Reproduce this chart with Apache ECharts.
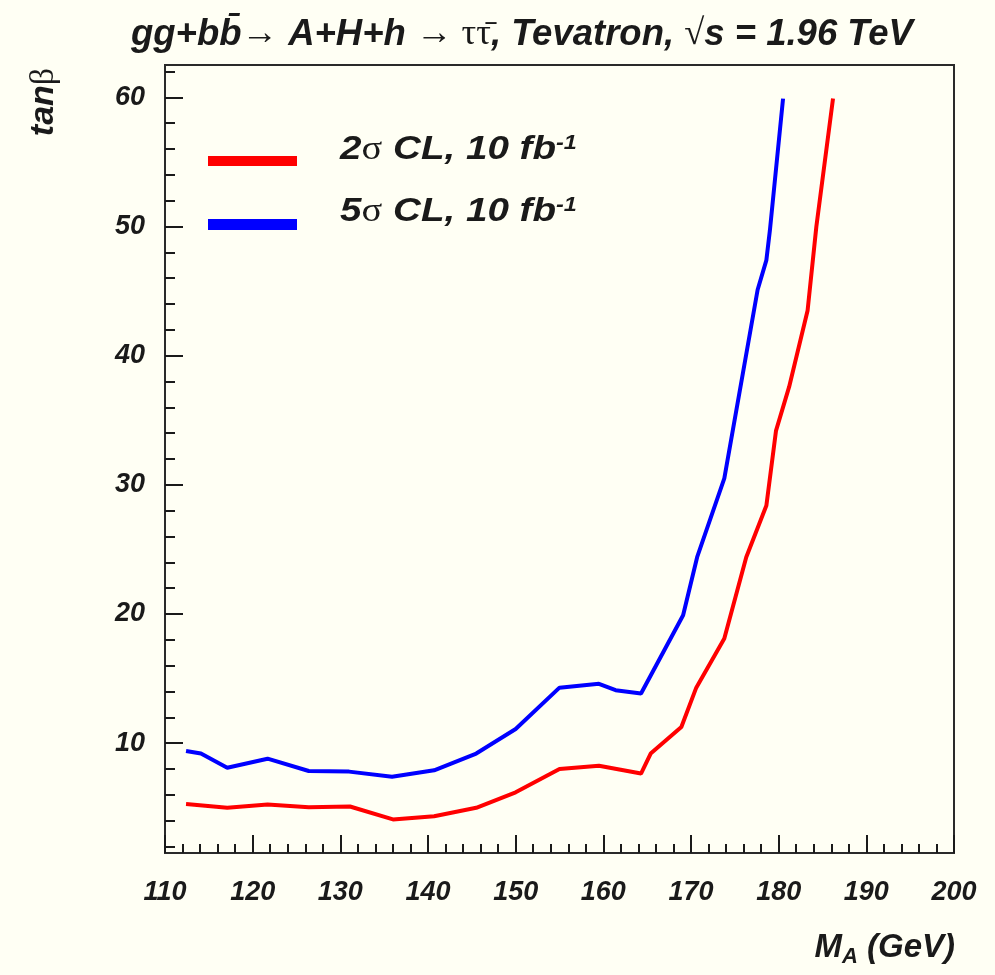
<!DOCTYPE html>
<html>
<head>
<meta charset="utf-8">
<script src="https://cdn.jsdelivr.net/npm/echarts@6/dist/echarts.min.js"></script>
<style>
  html, body { margin: 0; padding: 0; background: #fffff4; }
  #chart { width: 995px; height: 975px; }
</style>
</head>
<body>
<div id="chart"></div>
<script>
// Discovery reach in the (M_A, tan beta) plane, gg+bb -> A+H+h -> tau tau at the Tevatron
const seriesNames = ['2σ CL, 10 fb-1', '5σ CL, 10 fb-1'];
const seriesColors = ['#ff0000', '#0000ff'];

// 2 sigma contour
const redMass = [112.4, 117.1, 121.7, 126.4, 131.1, 136.0, 140.7, 145.5, 150.0, 155.0,
                 159.5, 164.3, 165.4, 168.9, 170.6, 173.8, 176.3, 178.6, 179.7, 181.2,
                 183.3, 184.3, 186.2];
const redTanBeta = [5.3, 5.0, 5.25, 5.05, 5.1, 4.1, 4.35, 5.0, 6.2, 8.0,
                    8.25, 7.65, 9.2, 11.25, 14.3, 18.1, 24.4, 28.4, 34.2, 37.6,
                    43.5, 50.0, 59.9];

// 5 sigma contour
const blueMass = [112.4, 114.1, 117.1, 121.7, 126.4, 131.0, 135.9, 140.7, 145.5, 150.0,
                  155.0, 159.5, 161.4, 164.3, 169.1, 170.7, 173.8, 177.6, 178.6, 179.0,
                  180.5];
const blueTanBeta = [9.4, 9.2, 8.1, 8.8, 7.85, 7.8, 7.4, 7.9, 9.2, 11.1,
                     14.3, 14.6, 14.1, 13.85, 19.9, 24.4, 30.5, 45.1, 47.4, 49.7,
                     59.9];

const xTickLabels = [110, 120, 130, 140, 150, 160, 170, 180, 190, 200];
const yTickLabels = [10, 20, 30, 40, 50, 60];
const yMinorTicks = [2, 4, 6, 8, 12, 14, 16, 18, 22, 24, 26, 28, 32, 34, 36, 38,
                     42, 44, 46, 48, 52, 54, 56, 58, 62];

const pairs = (xs, ys) => xs.map((x, i) => [x, ys[i]]);

const INK = '#1a1a1a';
const FRAME = '#2a2a2a';
const PAPER = '#fffff4';
const SANS = '"Liberation Sans", Arial, sans-serif';
const SYM = '"Liberation Serif", "DejaVu Serif", serif';

const chart = echarts.init(document.getElementById('chart'), null, { renderer: 'canvas' });

const labelFont = { fontFamily: SANS, fontWeight: 'bold', fontStyle: 'italic', fontSize: 27, color: INK };

// legend key: a thick bar followed by the entry text
function legendEntry(idx, barTop, barHeight, textY) {
  const n = seriesNames[idx].charAt(0);
  return [{
    type: 'rect',
    shape: { x: 208, y: barTop, width: 89, height: barHeight },
    style: { fill: seriesColors[idx] }
  }, {
    type: 'text',
    x: 340,
    y: textY,
    scaleX: 1.17,
    style: {
      text: '{t|' + n + '}{s|σ}{t| CL, 10 fb}{sup|-1}',
      align: 'left',
      verticalAlign: 'middle',
      rich: {
        t: { fontFamily: SANS, fontWeight: 'bold', fontStyle: 'italic', fontSize: 33, fill: INK },
        s: { fontFamily: SYM, fontWeight: 'normal', fontStyle: 'normal', fontSize: 33, fill: INK },
        sup: { fontFamily: SANS, fontWeight: 'bold', fontStyle: 'italic', fontSize: 20, fill: INK, verticalAlign: 'top' }
      }
    }
  }];
}

chart.setOption({
  animation: false,
  backgroundColor: PAPER,
  title: {
    left: 126,
    top: 11,
    text: '{i|gg+bb\u0304}{n|\u2192}{i| A+H+h }{n|\u2192 \u03c4\u03c4\u0304}{i|, Tevatron, }{n|\u221a}{i|s = 1.96 TeV}',
    textStyle: {
      rich: {
        i: { fontFamily: SANS, fontWeight: 'bold', fontStyle: 'italic', fontSize: 36.5, color: INK },
        n: { fontFamily: SYM, fontWeight: 'normal', fontStyle: 'normal', fontSize: 36.5, color: INK }
      }
    }
  },
  grid: {
    left: 165,
    right: 41,
    top: 65,
    bottom: 122,
    show: true,
    backgroundColor: PAPER,
    borderColor: FRAME,
    borderWidth: 2
  },
  xAxis: [{
    type: 'value',
    min: 110,
    max: 200,
    interval: 10,
    axisLine: { show: true, lineStyle: { color: FRAME, width: 2 } },
    axisTick: { show: true, inside: true, length: 18, lineStyle: { color: INK, width: 2 } },
    minorTick: { show: true, splitNumber: 5, length: 9, lineStyle: { color: INK, width: 2 } },
    splitLine: { show: false },
    axisLabel: Object.assign({ margin: 26, customValues: xTickLabels }, labelFont)
  }],
  yAxis: [{
    type: 'value',
    min: 1.5,
    max: 62.5,
    axisLine: { show: true, lineStyle: { color: FRAME, width: 2 } },
    axisTick: { show: true, inside: true, length: 18, customValues: yTickLabels, lineStyle: { color: INK, width: 2 } },
    splitLine: { show: false },
    axisLabel: Object.assign({ margin: 20, customValues: yTickLabels }, labelFont)
  }, {
    type: 'value',
    min: 1.5,
    max: 62.5,
    position: 'left',
    axisLine: { show: false },
    axisTick: { show: true, inside: true, length: 10, customValues: yMinorTicks, lineStyle: { color: INK, width: 2 } },
    splitLine: { show: false },
    axisLabel: { show: false }
  }],
  graphic: [{
    type: 'text',
    x: 44,
    y: 102,
    rotation: Math.PI / 2,
    style: {
      text: '{i|tan}{b|β}',
      align: 'center',
      verticalAlign: 'middle',
      rich: {
        i: { fontFamily: SANS, fontWeight: 'bold', fontStyle: 'italic', fontSize: 34, fill: INK },
        b: { fontFamily: SYM, fontWeight: 'normal', fontStyle: 'normal', fontSize: 34, fill: INK }
      }
    }
  }, {
    type: 'text',
    x: 955,
    y: 948,
    style: {
      text: '{m|M}{sub|A}{m| (GeV)}',
      align: 'right',
      verticalAlign: 'middle',
      rich: {
        m: { fontFamily: SANS, fontWeight: 'bold', fontStyle: 'italic', fontSize: 33, fill: INK },
        sub: { fontFamily: SANS, fontWeight: 'bold', fontStyle: 'italic', fontSize: 22, fill: INK, verticalAlign: 'bottom', padding: [18, 0, 0, 0] }
      }
    }
  }]
    .concat(legendEntry(0, 156, 10, 150))
    .concat(legendEntry(1, 219, 11, 212)),
  series: [{
    name: seriesNames[0],
    type: 'line',
    color: seriesColors[0],
    showSymbol: false,
    lineStyle: { width: 4, color: seriesColors[0] },
    data: pairs(redMass, redTanBeta)
  }, {
    name: seriesNames[1],
    type: 'line',
    color: seriesColors[1],
    showSymbol: false,
    lineStyle: { width: 4, color: seriesColors[1] },
    data: pairs(blueMass, blueTanBeta)
  }]
});
</script>
</body>
</html>
